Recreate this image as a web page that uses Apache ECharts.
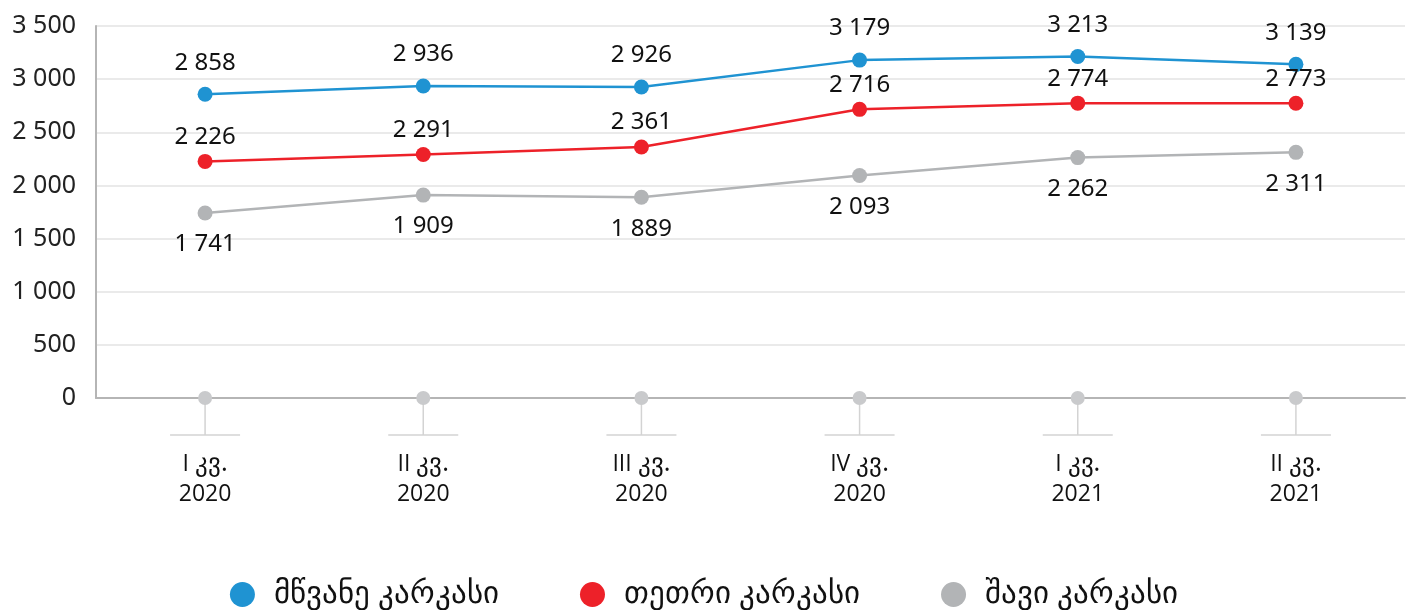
<!DOCTYPE html>
<html>
<head>
<meta charset="utf-8">
<script src="https://cdn.jsdelivr.net/npm/echarts@6/dist/echarts.min.js"></script>
<style>
html,body{margin:0;padding:0;background:#fff;}
#c{width:1408px;height:610px;}
</style>
</head>
<body>
<div id="c"></div>
<script>
const categories = ['I კვ.\n2020', 'II კვ.\n2020', 'III კვ.\n2020', 'IV კვ.\n2020', 'I კვ.\n2021', 'II კვ.\n2021'];
const seriesNames = ['მწვანე კარკასი', 'თეთრი კარკასი', 'შავი კარკასი'];
const greenValues = [2858, 2936, 2926, 3179, 3213, 3139];
const whiteValues = [2226, 2291, 2361, 2716, 2774, 2773];
const blackValues = [1741, 1909, 1889, 2093, 2262, 2311];
const baseValues = [0, 0, 0, 0, 0, 0];

const FONT = '"Noto Sans", sans-serif';
const LATIN = '"Open Sans", "Noto Sans", sans-serif';
const fmt = v => String(v).replace(/\B(?=(\d{3})+(?!\d))/g, ' ');

const chart = echarts.init(document.getElementById('c'));

function lineSeries(name, data, color, pos, dist) {
  return {
    name: name,
    type: 'line',
    data: data,
    symbol: 'circle',
    symbolSize: 15,
    z: 5,
    lineStyle: { color: color, width: 2.5 },
    itemStyle: { color: color },
    label: {
      show: true,
      position: pos,
      distance: dist,
      fontFamily: FONT,
      fontSize: 24,
      color: '#111',
      formatter: p => fmt(p.value)
    }
  };
}

// split category text so Latin/digit parts keep the sans font
function catLabel(v) {
  return v.split('\n').map(line => {
    const m = line.match(/^([IVX]+) (.*)$/);
    return m ? '{r|' + m[1] + '\u00a0}{g|' + m[2] + '}' : '{r|' + line + '}';
  }).join('\n');
}

chart.setOption({
  animation: false,
  textStyle: { fontFamily: FONT },
  grid: { left: 96, right: 3, top: 26, bottom: 212 },
  legend: {
    bottom: 0,
    padding: 0,
    left: 'center',
    icon: 'circle',
    itemWidth: 25,
    itemHeight: 25,
    itemGap: 81,
    data: seriesNames,
    textStyle: { fontFamily: FONT, fontSize: 31, color: '#111', padding: [0, 0, 0, 14] }
  },
  xAxis: {
    type: 'category',
    data: categories,
    boundaryGap: true,
    axisLine: { show: true, lineStyle: { color: '#b5b5b5', width: 2 } },
    axisTick: { show: false },
    axisLabel: {
      color: '#111',
      margin: 51,
      formatter: catLabel,
      rich: {
        r: { fontFamily: LATIN, fontSize: 23, color: '#111', lineHeight: 30 },
        g: { fontFamily: FONT, fontSize: 25, color: '#111', lineHeight: 30 }
      }
    }
  },
  yAxis: {
    type: 'value',
    min: 0,
    max: 3500,
    interval: 500,
    axisLine: { show: true, lineStyle: { color: '#b5b5b5', width: 2 } },
    axisTick: { show: false },
    splitLine: { lineStyle: { color: '#e3e3e3', width: 1.5 } },
    axisLabel: {
      fontFamily: FONT,
      fontSize: 25,
      color: '#222',
      margin: 20,
      formatter: v => fmt(v)
    }
  },
  series: [
    lineSeries(seriesNames[0], greenValues, '#1f93d2', 'top', 12),
    lineSeries(seriesNames[1], whiteValues, '#ed2129', 'top', 5),
    lineSeries(seriesNames[2], blackValues, '#b2b4b6', 'bottom', 12),
    {
      type: 'custom',
      name: 'base',
      z: 3,
      clip: false,
      data: baseValues.map((v, i) => [i, v]),
      renderItem: function (params, api) {
        const p = api.coord([api.value(0), api.value(1)]);
        const stem = 37, half = 35;
        return {
          type: 'group',
          children: [
            { type: 'line', shape: { x1: p[0], y1: p[1], x2: p[0], y2: p[1] + stem }, style: { stroke: '#d3d3d3', lineWidth: 1.5 } },
            { type: 'line', shape: { x1: p[0] - half, y1: p[1] + stem, x2: p[0] + half, y2: p[1] + stem }, style: { stroke: '#d3d3d3', lineWidth: 1.5 } },
            { type: 'circle', shape: { cx: p[0], cy: p[1], r: 7 }, style: { fill: '#c9cacc' } }
          ]
        };
      }
    }
  ]
});
</script>
</body>
</html>
